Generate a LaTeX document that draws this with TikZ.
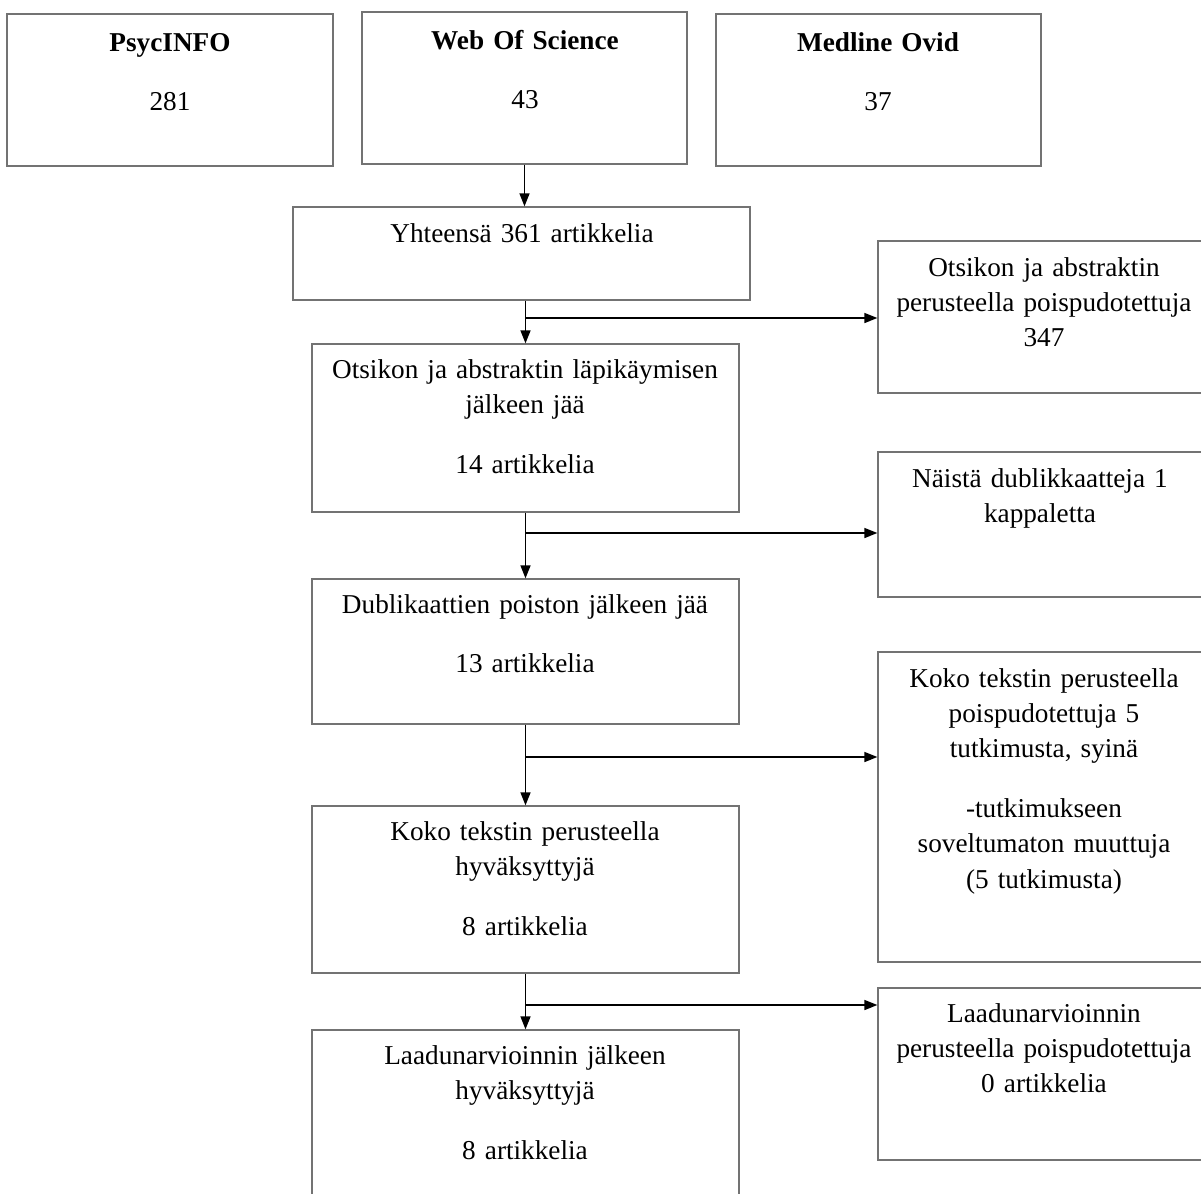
\documentclass[tikz,border=0pt]{standalone}
\usepackage{fontspec}
\setmainfont{Liberation Serif}
\usetikzlibrary{fit,arrows.meta}
\begin{document}
\begin{tikzpicture}[x=0.02cm,y=-0.02cm,
  bx/.style={draw=black!55, line width=0.7pt, inner sep=0pt},
  txt/.style={font=\fontsize{15.5}{20.1}\selectfont, align=center, inner sep=0pt, anchor=base, text width=8cm},
  rtxt/.style={txt, text width=6.4cm},
  arr/.style={draw=black, line width=0.8pt, -{Triangle[length=0.26cm,width=0.2cm]}}]
\useasboundingbox[fill=white] (0,0) rectangle (1201,1194);
% boxes
\node[bx, fit={(7,14) (333,166)}] (ps) {};
\node[bx, fit={(362,12) (687,164)}] (ws) {};
\node[bx, fit={(716,14) (1041,166)}] (md) {};
\node[bx, fit={(293,207) (750,300)}] (yh) {};
\node[bx, fit={(878,241) (1210,393)}] (or) {};
\node[bx, fit={(312,344) (739,512)}] (ot) {};
\node[bx, fit={(878,452) (1210,597)}] (nd) {};
\node[bx, fit={(312,579) (739,724)}] (dk) {};
\node[bx, fit={(878,652) (1210,962)}] (kr) {};
\node[bx, fit={(312,806) (739,973)}] (kl) {};
\node[bx, fit={(878,988) (1210,1160)}] (lr) {};
\node[bx, fit={(312,1030) (739,1210)}] (ll) {};
% texts
\node[rtxt] (psT) at (170,51) {\textbf{PsycINFO}\\[14pt]281};
\node[rtxt] (wsT) at (525,49) {\textbf{Web Of Science}\\[14pt]43};
\node[rtxt] (mdT) at (878,51) {\textbf{Medline Ovid}\\[14pt]37};
\node[txt] (yhT) at (522,242) {Yhteensä 361 artikkelia};
\node[rtxt] (orT) at (1044,276) {Otsikon ja abstraktin\\perusteella poispudotettuja\\347};
\node[txt] (otT) at (525,378) {Otsikon ja abstraktin läpikäymisen\\jälkeen jää\\[14pt]14 artikkelia};
\node[rtxt] (ndT) at (1040,487) {Näistä dublikkaatteja 1\\kappaletta};
\node[txt] (dkT) at (525,613) {Dublikaattien poiston jälkeen jää\\[14pt]13 artikkelia};
\node[rtxt] (krT) at (1044,687) {Koko tekstin perusteella\\poispudotettuja 5\\tutkimusta, syinä\\[14pt]-tutkimukseen\\soveltumaton muuttuja\\(5 tutkimusta)};
\node[txt] (klT) at (525,840) {Koko tekstin perusteella\\hyväksyttyjä\\[14pt]8 artikkelia};
\node[rtxt] (lrT) at (1044,1022) {Laadunarvioinnin\\perusteella poispudotettuja\\0 artikkelia};
\node[txt] (llT) at (525,1064) {Laadunarvioinnin jälkeen\\hyväksyttyjä\\[14pt]8 artikkelia};
% connectors
\draw[arr] (ws.south) -- (ws.south |- yh.north);
\draw[arr] (ot.north |- yh.south) -- (ot.north);
\draw[arr] (ot.south) -- (dk.north);
\draw[arr] (dk.south) -- (kl.north);
\draw[arr] (kl.south) -- (ll.north);
\coordinate (j1) at (525,318);
\coordinate (j2) at (525,533);
\coordinate (j3) at (525,757);
\coordinate (j4) at (525,1005);
\draw[arr] (j1) -- (j1 -| or.west);
\draw[arr] (j2) -- (j2 -| nd.west);
\draw[arr] (j3) -- (j3 -| kr.west);
\draw[arr] (j4) -- (j4 -| lr.west);
\end{tikzpicture}
\end{document}
